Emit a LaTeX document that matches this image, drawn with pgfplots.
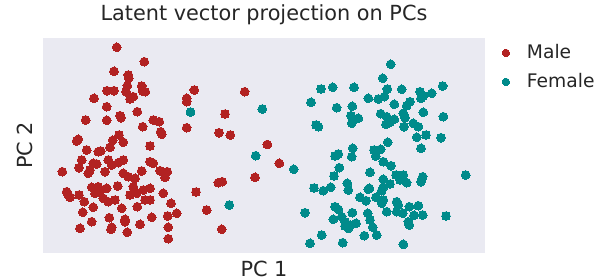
\documentclass[border=0pt]{standalone}
\usepackage{fontspec}
\setmainfont{DejaVu Sans}
\usepackage{pgfplots}
\pgfplotsset{compat=1.18}
\definecolor{malecol}{HTML}{B22222}
\definecolor{femcol}{HTML}{008B8B}
\definecolor{bgcol}{HTML}{EAEAF2}
\definecolor{txtcol}{HTML}{262626}
\begin{document}
\begin{tikzpicture}
\useasboundingbox (0,0) rectangle (599bp,280bp);
\begin{axis}[
  at={(43bp,27bp)}, anchor=south west,
  scale only axis, width=442bp, height=215bp,
  xmin=43, xmax=485, ymin=38, ymax=253, y dir=reverse,
  xtick=\empty, ytick=\empty,
  axis line style={draw=none},
  axis background/.style={fill=bgcol},
  title={Latent vector projection on PCs},
  title style={at={(axis description cs:0.5,1.0526)}, anchor=base, inner sep=0pt, font=\fontsize{20.8bp}{24bp}\selectfont, text=txtcol},
  xlabel={PC 1},
  xlabel style={at={(axis description cs:0.5,-0.1070)}, anchor=base, inner sep=0pt, font=\fontsize{20.8bp}{24bp}\selectfont, text=txtcol},
  ylabel={PC 2},
  ylabel style={at={(axis description cs:-0.0238,0.5)}, anchor=base, inner sep=0pt, font=\fontsize{20.8bp}{24bp}\selectfont, text=txtcol},
  legend cell align=left,
  legend image code/.code={\draw[#1, mark size=3.7bp] plot coordinates {(0bp,0bp)}; \path (-4bp,0bp) (21bp,0bp);},
  legend style={at={(axis description cs:1.0378,0.9577)}, anchor=north west, draw=none, fill=none,
    inner sep=0pt, row sep=17.8bp, column sep=0pt,
    nodes={inner sep=0pt, text height=11.2bp, text depth=0bp, text=txtcol},
    font=\fontsize{18.7bp}{22bp}\selectfont},
]
\addplot[only marks, mark=*, mark size=4.4bp, draw=none, fill=malecol, mark options={draw=malecol, fill=malecol, line width=0pt}] coordinates {
(116.7,47.3) (144.3,61.7) (114,71.3) (128.3,75) (128.7,78.3) (127.3,85.7) (141.7,86)
(107,90.7) (114,90.7) (126,91.7) (142.7,91) (145.3,91.7) (133.3,96.7) (130,99)
(94,98.3) (106.7,106.7) (120,115.7) (121,117.7) (137.3,111.7) (85.7,120) (106.7,120.3)
(153.3,120) (159.3,121.7) (142.7,126.7) (160.7,131.7) (161.7,134.3) (186.7,98.3)
(186.7,101.7) (186.7,127.7) (78.3,139.3) (76.7,141) (112.7,140.3) (119,135)
(123.3,142.3) (150,146)
(86.7,150) (98.3,151.7) (100.7,151) (110,147.3)
(81.7,160) (93.3,163.3) (96.7,164) (108.3,160) (111.7,165) (118.3,162.7) (123.3,160)
(79,167.7) (90,170) (88.3,173.3) (105,171.7) (62.3,171.7) (150,161.7) (153.3,163.3)
(160,170.7) (167.3,171.7) (165,177.3) (123.3,173.3) (128.3,176.7) (135,178.3) (141.7,171)
(66.7,191.7) (68.3,195) (70,197.3) (79,195) (91.7,187.3) (98.3,186.7) (106.7,188.3)
(95,193.3) (100,191.7) (103.3,198.3) (108.3,201.7) (115,200) (117.7,186) (130,195)
(133.3,186.7) (136.7,193.3) (143.3,190) (150,188.3) (145,200) (150,200) (163.3,193.3)
(84.3,201.7) (93.3,207.3) (121.7,208.3) (137.3,206.7) (171,203.3) (82.7,212.3)
(176.7,213.3) (167.7,216) (151.7,217.3) (109.3,217.7) (125,219.3) (125,221.7) (91.7,221.7)
(140,224.3) (111.7,227.3) (111,229.3) (80,228.3) (127.3,232.3) (168.3,227.3) (168.3,238.7)
(194.3,90) (244.7,91.7) (225,114) (219,132.7) (230.3,135) (267.3,144.5) (279.3,163.3)
(255,177.3) (218.3,182.7) (222.3,181.7) (196,192) (206.7,210) (221.7,229.3)
};
\addlegendentry{Male}
\addplot[only marks, mark=*, mark size=4.4bp, draw=none, fill=femcol, mark options={draw=femcol, fill=femcol, line width=0pt}] coordinates {
(190.5,112) (262.3,109) (311,102.3) (321,89) (316,125) (318.5,126.7) (255.7,155.7)
(293.7,169.3) (229.3,205) (314,188) (305,212.7) (310,243.3)
(390.7,64.3) (382.7,78.3) (332.7,87.3) (354,87.3) (387.3,89) (401.7,89.3) (420,91.7)
(431.7,93.3) (442.7,86) (336.7,107.7) (352.3,106.3) (368.3,98.3) (378.3,99) (384.3,96.7)
(421,98.3) (423.3,96) (394.3,104.3) (406.7,105.7) (410,101.7) (351,115.7) (358.3,118.3)
(351.7,123.3) (380.7,113.7) (386.7,116.7) (390,122.3) (386,124.3) (394.3,119.3)
(403.3,113.3) (405,117.7) (404,126.7) (413.3,123.3) (418.3,126.7) (423.3,112.3)
(443.3,116.7) (416.7,137.3) (426,135) (441,137.7) (387.7,142.3)
(352.7,148.3) (351.7,156.7) (335,156) (338.3,154) (374,150) (380.7,149.3) (375.7,156)
(421,148.3) (339.3,167.7) (334,176) (383.3,161.7) (391,165.7) (370,172.3) (396,175)
(403.3,175) (400,180) (406.7,182.7) (422.7,176.7) (421,181.7) (465.7,175) (323.3,190.7)
(330.7,187.3) (347.3,183.3) (348.3,190) (383.3,179.3) (390,184) (383.3,187.3) (381.7,190.7)
(369.3,188.3) (368.3,189.3) (360,197.3) (366,200.7) (376,197.3) (383.3,200) (381.7,203.3)
(396.7,201.7) (398.3,205) (409.3,206.7) (418.3,205.7) (335,206.7) (338.3,209.3)
(352.3,212.7) (386.7,211.7) (396.7,211.7) (402.7,213.3) (414,215.3) (422.7,215) (446,216)
(333.3,219.3) (341.7,216.7) (345,221.7) (367.7,213.3) (370,220) (356,223.3) (350,225)
(345,226) (348.3,228.3) (372.7,227.3) (408.3,221.7) (409.3,225) (321.7,235) (364.3,235.7)
(376.7,235) (342.7,242.7) (403.3,244.3)
};
\addlegendentry{Female}
\end{axis}
\end{tikzpicture}
\end{document}
